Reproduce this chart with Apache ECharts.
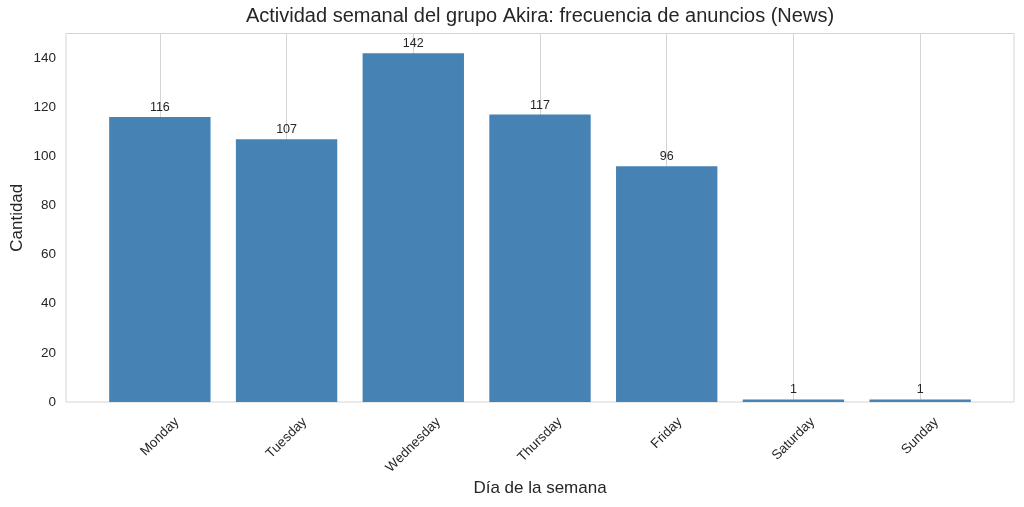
<!DOCTYPE html>
<html lang="es">
<head>
<meta charset="utf-8">
<title>Actividad semanal</title>
<script src="https://cdn.jsdelivr.net/npm/echarts@6/dist/echarts.min.js"></script>
<style>
    html, body { margin: 0; padding: 0; background: #fff; }
    #main { width: 1024px; height: 507px; }
</style>
</head>
<body>
<div id="main"></div>
<script type="text/javascript">
// datos
var dias = ['Monday', 'Tuesday', 'Wednesday', 'Thursday', 'Friday', 'Saturday', 'Sunday'];
var cantidades = [116, 107, 142, 117, 96, 1, 1];
var titulo = 'Actividad semanal del grupo Akira: frecuencia de anuncios (News)';
var nombreX = 'Día de la semana';
var nombreY = 'Cantidad';

var fuente = '"Liberation Sans", Arial, sans-serif';
var gris = '#262626';
var lineaGris = '#d4d4d4';
var tamTick = 13.5;
var tamTitulo = 20;

var ctx = document.createElement('canvas').getContext('2d');
function ancho(txt, px) {
    ctx.font = px + 'px "Liberation Sans"';
    return ctx.measureText(txt).width;
}

// texto girado centrado bajo su marca (como matplotlib):
// lineHeight lo baja y el padding derecho compensa el desplazamiento lateral
var categorias = dias.map(function (d) {
    var alto = (ancho(d, tamTick) + tamTick) / 2;
    return {
        value: d,
        textStyle: {
            align: 'center',
            verticalAlign: 'top',
            lineHeight: alto,
            padding: [0, alto, 0, 0]
        }
    };
});

var myChart = echarts.init(document.getElementById('main'));
var option = {
    animation: false,
    backgroundColor: '#fff',
    textStyle: { fontFamily: fuente },
    title: {
        text: titulo,
        left: 540 - ancho(titulo, tamTitulo) / 2,
        top: 6,
        padding: 0,
        textStyle: { fontFamily: fuente, fontSize: tamTitulo, fontWeight: 'normal', color: gris }
    },
    grid: [
        // marco exterior
        { left: 66, right: 10, top: 33.5, bottom: 105, containLabel: false, outerBoundsMode: 'none',
          show: true, borderColor: lineaGris, borderWidth: 1 },
        // zona de las categorias
        { left: 96.5, right: 40.5, top: 33.5, bottom: 105, containLabel: false, outerBoundsMode: 'none' }
    ],
    xAxis: [{
        type: 'category',
        gridIndex: 1,
        data: categorias,
        name: nombreX,
        nameLocation: 'middle',
        nameGap: 78,
        nameMoveOverlap: false,
        nameTextStyle: { fontFamily: fuente, fontSize: 17, color: gris },
        axisLine: { show: false },
        axisTick: { show: false },
        splitLine: { show: false },
        axisLabel: {
            interval: 0,
            rotate: 45,
            margin: 13,
            fontFamily: fuente,
            fontSize: tamTick,
            color: gris
        }
    }, {
        type: 'value',
        gridIndex: 0,
        show: false
    }],
    yAxis: [{
        type: 'value',
        gridIndex: 1,
        min: 0,
        max: 150,
        interval: 20,
        offset: 30.5,
        name: nombreY,
        nameLocation: 'middle',
        nameGap: 40,
        nameMoveOverlap: false,
        nameTextStyle: { fontFamily: fuente, fontSize: 17, color: gris },
        axisLine: { show: false },
        axisTick: { show: false },
        splitLine: { show: false },
        axisLabel: {
            margin: 10,
            showMaxLabel: false,
            fontFamily: fuente,
            fontSize: tamTick,
            color: gris
        }
    }, {
        type: 'value',
        gridIndex: 0,
        show: false
    }],
    series: [{
        type: 'bar',
        xAxisIndex: 0,
        yAxisIndex: 0,
        data: cantidades,
        barWidth: '80%',
        z: 2,
        itemStyle: { color: '#4682b4' },
        label: {
            show: true,
            position: 'top',
            distance: 3,
            fontFamily: fuente,
            fontSize: 12.5,
            color: gris
        },
        // lineas verticales de la rejilla en el centro de cada categoria
        markLine: {
            silent: true,
            z: 1,
            symbol: ['none', 'none'],
            label: { show: false },
            lineStyle: { color: lineaGris, type: 'solid', width: 1 },
            emphasis: { disabled: true },
            data: dias.map(function (d) { return { xAxis: d }; })
        }
    }]
};
myChart.setOption(option);
</script>
</body>
</html>
